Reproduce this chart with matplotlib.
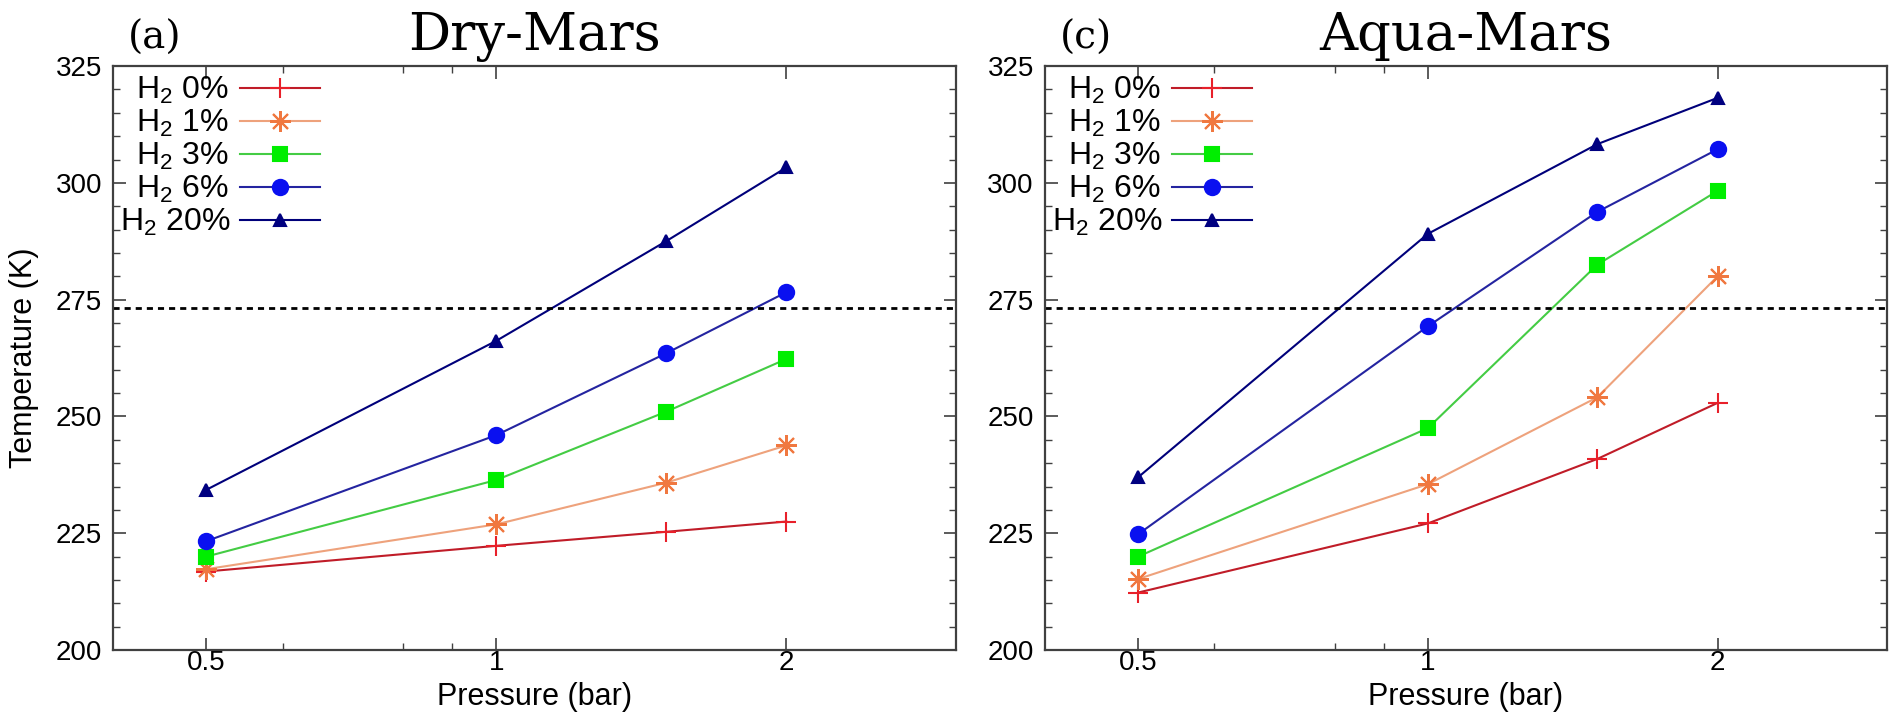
import matplotlib
matplotlib.use("Agg")
import matplotlib.pyplot as plt
from matplotlib.ticker import FixedLocator, FixedFormatter, NullFormatter, MultipleLocator

plt.rcParams['font.family'] = ['Liberation Sans', 'DejaVu Sans']
plt.rcParams['mathtext.default'] = 'regular'

# surface pressure (bar) and H2 fraction (%)
pressure = [0.5, 1.0, 1.5, 2.0]
h2_percent = [0, 1, 3, 6, 20]

# mean surface temperature (K), dry planet
dry_0 = [216.8, 222.3, 225.3, 227.5]
dry_1 = [217.3, 226.9, 235.8, 243.8]
dry_3 = [220.0, 236.4, 251.0, 262.3]
dry_6 = [223.3, 246.0, 263.5, 276.6]
dry_20 = [234.3, 266.2, 287.5, 303.3]

# mean surface temperature (K), planet with ocean
aqua_0 = [212.3, 227.1, 240.9, 252.9]
aqua_1 = [215.2, 235.5, 254.1, 280.0]
aqua_3 = [220.0, 247.5, 282.5, 298.3]
aqua_6 = [224.8, 269.3, 293.8, 307.2]
aqua_20 = [237.0, 289.1, 308.3, 318.2]

freezing = 273.15
x_ticks = [0.5, 1, 2]
x_ticklabels = ['0.5', '1', '2']
x_minor = [0.6, 0.8, 0.9]

line_colors = ['#c01c28', '#eea27c', '#44cc44', '#2424a0', '#00007a']
marker_colors = ['#e8202a', '#f07840', '#00ee00', '#0a10f0', '#000080']
markers = ['+', (8, 2, 0), 's', 'o', '^']
marker_sizes = [15, 15, 10, 11, 9]

fig = plt.figure(figsize=(18.9, 7.12), dpi=100)
ax_dry = fig.add_axes([0.0598, 0.0871, 0.446, 0.820])
ax_aqua = fig.add_axes([0.5529, 0.0871, 0.4455, 0.820])

panels = [
    (ax_dry, [dry_0, dry_1, dry_3, dry_6, dry_20], 'Dry-Mars', '(a)'),
    (ax_aqua, [aqua_0, aqua_1, aqua_3, aqua_6, aqua_20], 'Aqua-Mars', '(c)'),
]

for ax, series, title, letter in panels:
    handles = []
    for i, temps in enumerate(series):
        mc = marker_colors[i]
        h, = ax.plot(pressure, temps, color=line_colors[i], lw=1.5,
                     marker=markers[i], ms=marker_sizes[i],
                     mfc=mc, mec=mc, mew=1.5)
        handles.append(h)
    ax.axhline(freezing, color='black', ls=(0, (2.2, 1.8)), lw=2.0)

    ax.set_xscale('log')
    ax.set_xlim(0.4, 3)
    ax.xaxis.set_major_locator(FixedLocator(x_ticks))
    ax.xaxis.set_major_formatter(FixedFormatter(x_ticklabels))
    ax.xaxis.set_minor_locator(FixedLocator(x_minor))
    ax.xaxis.set_minor_formatter(NullFormatter())
    ax.set_ylim(200, 325)
    ax.yaxis.set_major_locator(MultipleLocator(25))
    ax.yaxis.set_minor_locator(MultipleLocator(5))

    ax.tick_params(which='both', direction='in', top=True, right=True,
                   color='#404040', labelcolor='black', labelsize=20)
    ax.tick_params(which='major', length=9, width=1.2)
    ax.tick_params(which='minor', length=5, width=1.0)
    ax.tick_params(axis='y', pad=8)
    ax.tick_params(axis='x', pad=0)
    for sp in ax.spines.values():
        sp.set_color('#404040')
        sp.set_linewidth(1.6)

    ax.set_xlabel('Pressure (bar)', fontsize=22, labelpad=4)

    labels = ['H$_2$ ' + f'{p}%'.ljust(3, '\u2007') for p in h2_percent]
    ax.legend(handles, labels, loc='upper left', bbox_to_anchor=(0.008, 0.985),
              frameon=False, markerfirst=False, fontsize=23,
              handlelength=2.5, handletextpad=0.3, labelspacing=0.06,
              borderpad=0, borderaxespad=0)

    ax.text(0.5, 1.027, title, transform=ax.transAxes, ha='center',
            va='baseline', fontsize=38, family='DejaVu Serif')
    ax.text(0.018, 1.03, letter, transform=ax.transAxes, ha='left',
            va='baseline', fontsize=28, family='DejaVu Serif')

ax_dry.set_ylabel('Temperature (K)', fontsize=22, labelpad=12)

fig.savefig('out.png', dpi=100)
